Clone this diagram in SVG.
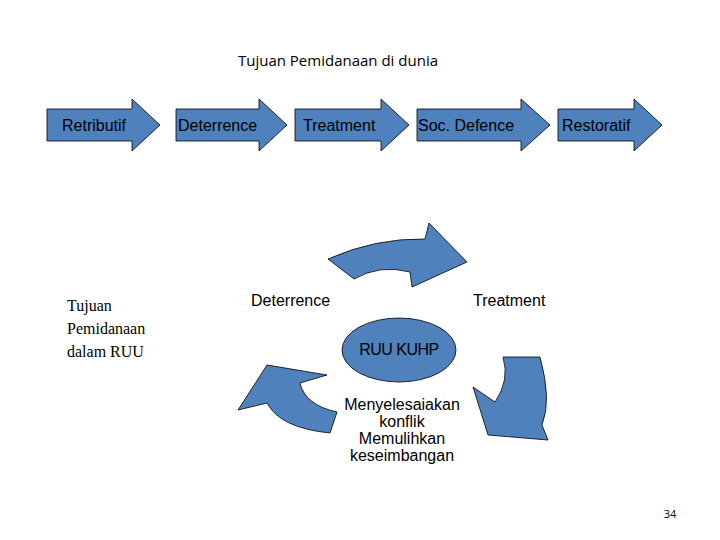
<svg xmlns="http://www.w3.org/2000/svg" width="720" height="540" viewBox="0 0 720 540">
<style>
.sh{fill:#4f81bd;stroke:#000;stroke-width:0.8}
.a{font-family:"Liberation Sans",Arial,sans-serif;font-size:16px;fill:#000}
.s{font-family:"Liberation Serif",serif;font-size:16px;fill:#000}
.c{font-family:"Open Sans","Liberation Sans",sans-serif;fill:#000}
</style>
<rect width="720" height="540" fill="#fff"/>
<text class="c" x="338" y="66" font-size="15" text-anchor="middle">Tujuan Pemidanaan di dunia</text>
<g id="n1"><path class="sh" d="M47,109H132V99L160,125L132,151V141H47Z"/><text class="a" x="62" y="131">Retributif</text></g>
<g id="n2"><path class="sh" d="M176,109H259V99L287,125L259,151V141H176Z"/><text class="a" x="178" y="131">Deterrence</text></g>
<g id="n3"><path class="sh" d="M295,109H381V99L409,125L381,151V141H295Z"/><text class="a" x="303" y="131">Treatment</text></g>
<g id="n4"><path class="sh" d="M417,109H521V99L550,125L521,151V141H417Z"/><text class="a" x="418" y="131">Soc. Defence</text></g>
<g id="n5"><path class="sh" d="M558,109H634V99L662,125L634,151V141H558Z"/><text class="a" x="562" y="131">Restoratif</text></g>
<g id="n6"><text class="s" x="67" y="311">Tujuan</text><text class="s" x="67" y="334">Pemidanaan</text><text class="s" x="67" y="357">dalam RUU</text></g>
<g id="connectors">
<path class="sh" d="M328,259Q375,238 425,239L429,223L467,262L412,287L410,272Q380,264 354,279Z"/>
<path class="sh" d="M503,357L540,357Q552,400 542,425L548,440L488,435L473,387L495,402Q510,380 503,357Z"/>
<path class="sh" d="M267,365L327,375L300,383Q305,405 337,412L330,433Q280,428 267,403L238,410Z"/>
</g>
<g id="n7"><text class="a" x="251" y="306" font-size="15">Deterrence</text></g>
<g id="n8"><text class="a" x="473" y="306" font-size="15">Treatment</text></g>
<g id="n9"><ellipse class="sh" cx="399" cy="350" rx="57" ry="32"/><text class="a" x="399" y="355" font-size="14" text-anchor="middle" letter-spacing="-0.5">RUU KUHP</text></g>
<g id="n10" font-size="13"><text class="a" font-size="13" x="402" y="410" text-anchor="middle">Menyelesaiakan</text><text class="a" font-size="13" x="402" y="427" text-anchor="middle">konflik</text><text class="a" font-size="13" x="402" y="444" text-anchor="middle">Memulihkan</text><text class="a" font-size="13" x="402" y="461" text-anchor="middle">keseimbangan</text></g>
<text class="c" x="670" y="518" font-size="11" fill="#595959" text-anchor="middle">34</text>
</svg>
